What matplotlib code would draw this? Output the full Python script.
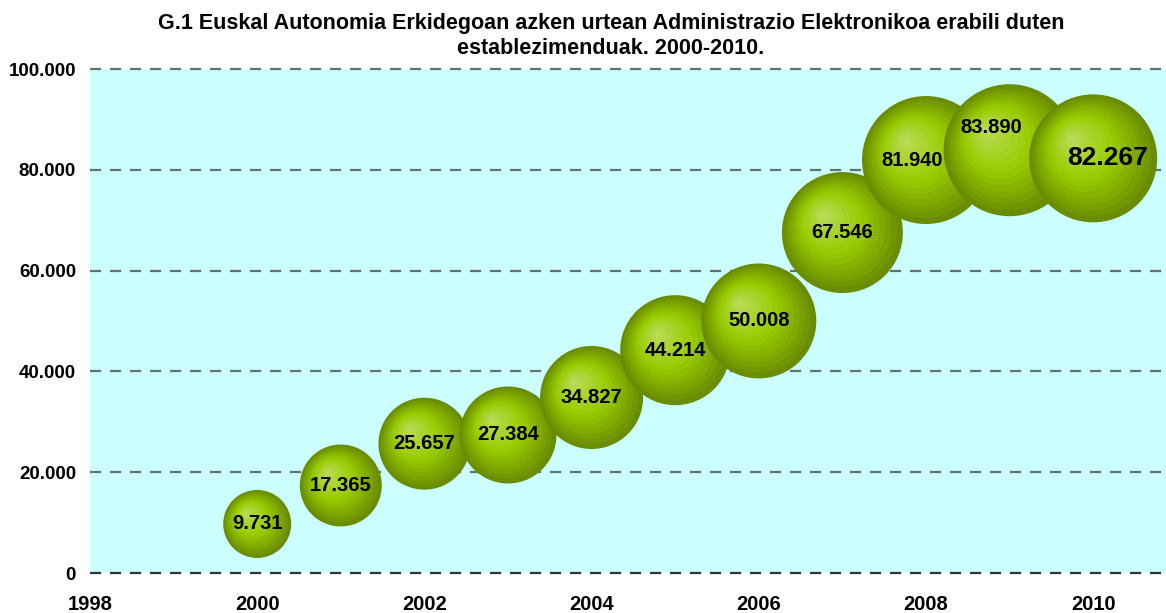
import matplotlib
matplotlib.use("Agg")
import matplotlib.pyplot as plt
import matplotlib.transforms as mtransforms
from matplotlib.patches import Circle
import numpy as np

years = [2000, 2001, 2002, 2003, 2004, 2005, 2006, 2007, 2008, 2009, 2010]
values = [9731, 17365, 25657, 27384, 34827, 44214, 50008, 67546, 81940, 83890, 82267]
labels = ["9.731", "17.365", "25.657", "27.384", "34.827", "44.214", "50.008",
          "67.546", "81.940", "83.890", "82.267"]
# relative bubble size (area)
bubble_size = [19.9, 28.9, 36.4, 40.5, 45.7, 52.1, 56.9, 63.0, 70.5, 75.0, 70.5]
yticks = [0, 20000, 40000, 60000, 80000, 100000]
ytick_labels = ["0", "20.000", "40.000", "60.000", "80.000", "100.000"]
xticks = [1998, 2000, 2002, 2004, 2006, 2008, 2010]
title = ("G.1 Euskal Autonomia Erkidegoan azken urtean Administrazio Elektronikoa erabili duten\n"
         "establezimenduak. 2000-2010.")

plt.rcParams['font.family'] = ['Liberation Sans', 'DejaVu Sans']

W, H = 1166, 613
fig = plt.figure(figsize=(W / 100, H / 100), dpi=100)
ax = fig.add_axes([90 / W, 1 - 573 / H, (W - 90) / W, (573 - 69) / H])
ax.set_facecolor('#ccffff')
ax.set_xlim(1998, 1998 + (W - 90) / 83.6)
ax.set_ylim(0, 100000)
for s in ax.spines.values():
    s.set_visible(False)

for yt in yticks:
    ax.axhline(yt, color='#5f7373' if yt else '#333333', lw=1.6, ls=(0, (5, 4)), zorder=1, clip_on=False)

ax.set_yticks(yticks)
ax.set_yticklabels(ytick_labels, fontsize=13.5, fontweight='bold')
ax.set_xticks(xticks)
ax.set_xticklabels([str(x) for x in xticks], fontsize=14.5, fontweight='bold')
ax.tick_params(axis='both', length=0)
ax.tick_params(axis='x', pad=16)
ax.tick_params(axis='y', pad=10)

max_r = 66.0
smax = max(bubble_size)
edge = np.array([0x6a, 0x8c, 0x00]) / 255
mid = np.array([0x99, 0xcc, 0x00]) / 255
hi = np.array([0xb8, 0xda, 0x55]) / 255
N = 14
for i, (x, y, sz) in enumerate(zip(years, values, bubble_size)):
    r = max_r * np.sqrt(sz / smax)
    off = np.array([-0.35 * r, 0.32 * r])
    for k in range(N):
        f = 1 - k / N  # radius fraction
        t = k / (N - 1)
        if t < 0.5:
            c = edge + (mid - edge) * (t / 0.5)
        else:
            c = mid + (hi - mid) * ((t - 0.5) / 0.5)
        cx, cy = off * (1 - f)
        tr = mtransforms.Affine2D().scale(r * f).translate(cx, cy) + \
            mtransforms.ScaledTranslation(x, y, ax.transData)
        circ = Circle((0, 0), 1, transform=tr, facecolor=c, edgecolor='none',
                      zorder=3 + i * 0.01)
        ax.add_patch(circ)

label_shift = {"81.940": (-10, 0), "83.890": (-13, 16), "82.267": (10, 0)}
for i, (x, y, lab) in enumerate(zip(years, values, labels)):
    fs = 19 if lab == "82.267" else 14.5
    dx, dy = label_shift.get(lab, (0, 0))
    ax.annotate(lab, (x, y), xytext=(dx, dy), textcoords='offset points',
                ha='center', va='center', fontsize=fs, fontweight='bold',
                color='black', zorder=10)

fig.text(0.524, 1 - 36 / H, title, ha='center', va='center', fontsize=15.5,
         fontweight='bold', linespacing=1.25)

fig.savefig('out.png', dpi=100)
